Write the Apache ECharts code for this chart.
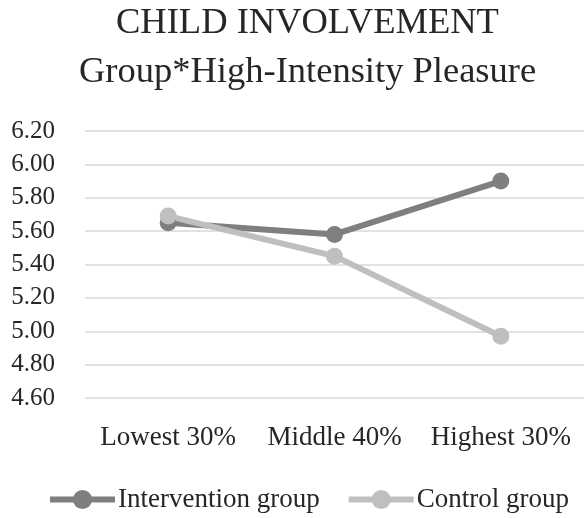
<!DOCTYPE html>
<html>
<head>
<meta charset="utf-8">
<script src="https://cdn.jsdelivr.net/npm/echarts@6/dist/echarts.min.js"></script>
<style>
  html, body { margin: 0; padding: 0; background: #fff; }
  #chart { width: 584px; height: 518px; }
</style>
</head>
<body>
<div id="chart"></div>
<script>
const categories = ['Lowest 30%', 'Middle 40%', 'Highest 30%']
const interventionGroup = [5.65, 5.58, 5.90]
const controlGroup = [5.69, 5.45, 4.97]

const chart = echarts.init(document.getElementById('chart'))
const font = '"Liberation Serif", "Times New Roman", serif'
const textColor = '#262626'

const option = {
  animation: false,
  textStyle: { fontFamily: font },
  title: [
    { text: 'CHILD INVOLVEMENT', left: 111, top: 0,
      textStyle: { fontFamily: font, fontSize: 36.5, fontWeight: 'normal', color: textColor } },
    { text: 'Group*High-Intensity Pleasure', left: 74, top: 49,
      textStyle: { fontFamily: font, fontSize: 36.5, fontWeight: 'normal', color: textColor } }
  ],
  grid: { left: 85, right: -2, top: 131, bottom: 120 },
  xAxis: {
    type: 'category',
    data: categories,
    axisLine: { show: false },
    axisTick: { show: false },
    axisLabel: { fontFamily: font, fontSize: 27, color: textColor, margin: 26, interval: 0 }
  },
  yAxis: {
    type: 'value',
    min: 4.6, max: 6.2, interval: 0.2,
    axisLine: { show: false },
    axisTick: { show: false },
    splitLine: { lineStyle: { color: '#d9d9d9', width: 1.5 } },
    axisLabel: {
      fontFamily: font, fontSize: 25, color: textColor, margin: 30,
      formatter: v => v.toFixed(2)
    }
  },
  legend: {
    top: 481,
    left: 42,
    itemWidth: 65,
    itemHeight: 24,
    itemGap: 26,
    lineStyle: { width: 6 },
    textStyle: { fontFamily: font, fontSize: 27, color: textColor, padding: [0, 0, 0, -2] },
    data: ['Intervention group', 'Control group']
  },
  series: [
    {
      name: 'Intervention group', type: 'line', data: interventionGroup,
      symbol: 'circle', symbolSize: 17,
      lineStyle: { color: '#7f7f7f', width: 6 },
      itemStyle: { color: '#7f7f7f' }
    },
    {
      name: 'Control group', type: 'line', data: controlGroup,
      symbol: 'circle', symbolSize: 17,
      lineStyle: { color: '#bfbfbf', width: 6 },
      itemStyle: { color: '#bfbfbf' }
    }
  ]
}
chart.setOption(option)
</script>
</body>
</html>
